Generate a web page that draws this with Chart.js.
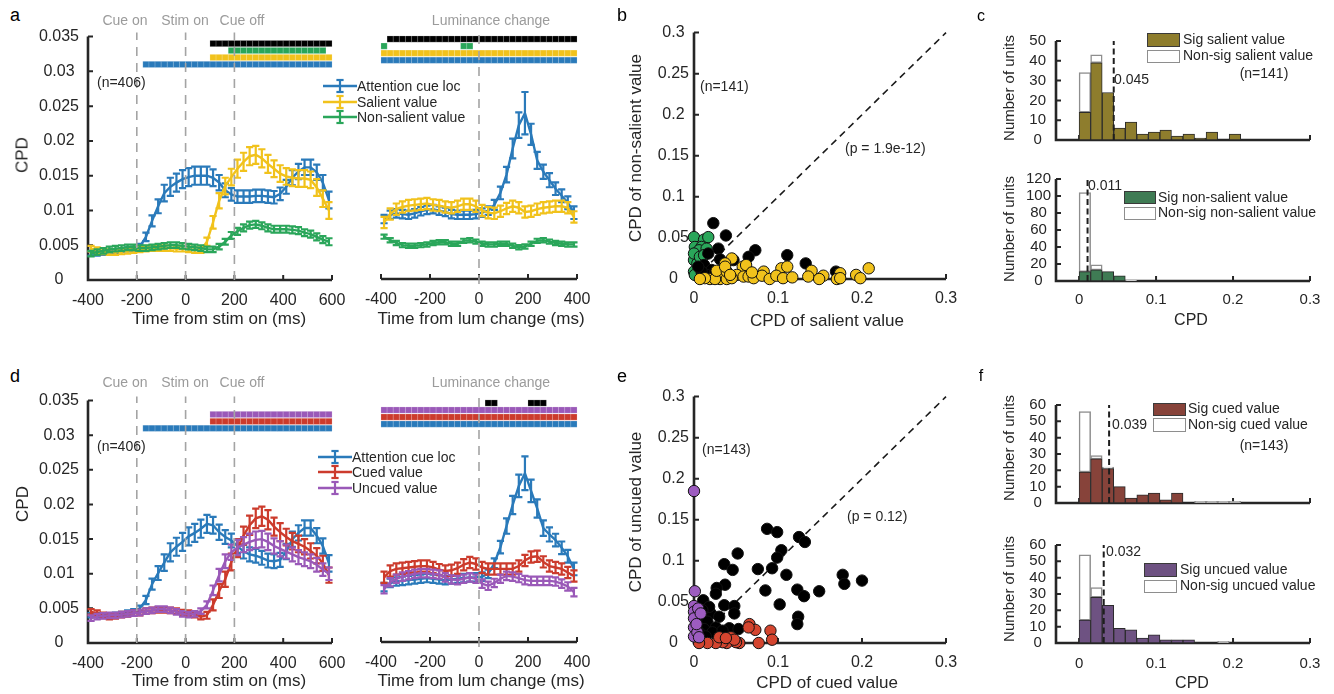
<!DOCTYPE html>
<html>
<head>
<meta charset="utf-8">
<script src="https://cdn.jsdelivr.net/npm/chart.js@4.4.1/dist/chart.umd.min.js"></script>
<style>
html, body { margin: 0; padding: 0; background: #fff; }
#fig { position: relative; width: 1334px; height: 694px; overflow: hidden;
       font-family: "Liberation Sans", Arial, Helvetica, sans-serif; color: #262626; }
#fig canvas { position: absolute; }
.t { position: absolute; white-space: nowrap; line-height: 1; }
.box { position: absolute; box-sizing: border-box; }
</style>
</head>
<body>
<div id="fig"></div>
<script>
// ---------- data ----------
const timeStim = [-387.5,-362.5,-337.5,-312.5,-287.5,-262.5,-237.5,-212.5,-187.5,-162.5,-137.5,-112.5,-87.5,-62.5,-37.5,-12.5,12.5,37.5,62.5,87.5,112.5,137.5,162.5,187.5,212.5,237.5,262.5,287.5,312.5,337.5,362.5,387.5,412.5,437.5,462.5,487.5,512.5,537.5,562.5,587.5];
const timeLum = [-387.5,-362.5,-337.5,-312.5,-287.5,-262.5,-237.5,-212.5,-187.5,-162.5,-137.5,-112.5,-87.5,-62.5,-37.5,-12.5,12.5,37.5,62.5,87.5,112.5,137.5,162.5,187.5,212.5,237.5,262.5,287.5,312.5,337.5,362.5,387.5];

const stimTicks = [-400, -200, 0, 200, 400, 600];
const lumTicks = [-400, -200, 0, 200, 400];
const cpdTicks = [0, 0.005, 0.01, 0.015, 0.02, 0.025, 0.03, 0.035];
const scatterYTicks = [0, 0.05, 0.1, 0.15, 0.2, 0.25, 0.3];
const scatterXTicks = [0, 0.1, 0.2, 0.3];
const histXTicks = [0, 0.1, 0.2, 0.3];
const cTopYTicks = [0, 10, 20, 30, 40, 50];
const cBotYTicks = [0, 20, 40, 60, 80, 100, 120];
const fYTicks = [0, 10, 20, 30, 40, 50, 60];

// panel a, aligned to stim on
const aStimCue = [0.0038,0.0038,0.0039,0.0040,0.0041,0.0043,0.0044,0.0045,0.0048,0.0062,0.0085,0.0106,0.0125,0.0134,0.0140,0.0145,0.0148,0.0150,0.0150,0.0150,0.0147,0.0140,0.0129,0.0123,0.0120,0.0120,0.0120,0.0121,0.0121,0.0120,0.0119,0.0124,0.0134,0.0147,0.0156,0.0162,0.0162,0.0155,0.0140,0.0115];
const aStimCueErr = [0.0003,0.0003,0.0003,0.0003,0.0003,0.0003,0.0003,0.0003,0.0004,0.0006,0.0008,0.0010,0.0012,0.0013,0.0013,0.0013,0.0013,0.0013,0.0013,0.0013,0.0012,0.0011,0.0010,0.0009,0.0009,0.0009,0.0009,0.0009,0.0009,0.0009,0.0009,0.0009,0.0010,0.0011,0.0011,0.0011,0.0011,0.0011,0.0011,0.0012];
const aStimSal = [0.0045,0.0043,0.0041,0.0040,0.0040,0.0041,0.0042,0.0043,0.0044,0.0045,0.0046,0.0046,0.0046,0.0046,0.0045,0.0045,0.0044,0.0043,0.0043,0.0055,0.0083,0.0114,0.0135,0.0148,0.0160,0.0170,0.0178,0.0180,0.0175,0.0167,0.0160,0.0153,0.0149,0.0147,0.0146,0.0146,0.0144,0.0133,0.0117,0.0100];
const aStimSalErr = [0.0004,0.0004,0.0004,0.0004,0.0004,0.0004,0.0004,0.0004,0.0004,0.0004,0.0004,0.0004,0.0004,0.0004,0.0004,0.0004,0.0004,0.0004,0.0004,0.0006,0.0009,0.0011,0.0012,0.0012,0.0013,0.0013,0.0013,0.0013,0.0013,0.0013,0.0012,0.0012,0.0012,0.0012,0.0012,0.0012,0.0012,0.0012,0.0012,0.0012];
const aStimNonSal = [0.0038,0.0040,0.0042,0.0044,0.0045,0.0046,0.0047,0.0047,0.0046,0.0046,0.0047,0.0048,0.0049,0.0050,0.0050,0.0049,0.0048,0.0047,0.0046,0.0044,0.0044,0.0048,0.0055,0.0064,0.0070,0.0075,0.0079,0.0080,0.0078,0.0075,0.0073,0.0073,0.0073,0.0072,0.0071,0.0068,0.0066,0.0062,0.0058,0.0055];
const aStimNonSalErr = [0.0004,0.0004,0.0004,0.0004,0.0004,0.0004,0.0004,0.0004,0.0004,0.0004,0.0004,0.0004,0.0004,0.0004,0.0004,0.0004,0.0004,0.0004,0.0004,0.0004,0.0004,0.0004,0.0004,0.0005,0.0005,0.0005,0.0005,0.0005,0.0005,0.0005,0.0005,0.0005,0.0005,0.0005,0.0005,0.0005,0.0005,0.0005,0.0005,0.0005];

// panel a, aligned to luminance change
const aLumCue = [0.0085,0.0091,0.0093,0.0092,0.0091,0.0093,0.0096,0.0098,0.0099,0.0097,0.0095,0.0092,0.0091,0.0091,0.0091,0.0092,0.0094,0.0097,0.0105,0.0122,0.0148,0.0185,0.0218,0.0235,0.0205,0.0168,0.0152,0.0140,0.0128,0.0118,0.0108,0.0094];
const aLumCueErr = [0.0006,0.0006,0.0006,0.0006,0.0006,0.0006,0.0006,0.0006,0.0006,0.0006,0.0006,0.0006,0.0006,0.0006,0.0006,0.0006,0.0006,0.0006,0.0007,0.0009,0.0011,0.0014,0.0018,0.0030,0.0015,0.0012,0.0010,0.0010,0.0009,0.0009,0.0009,0.0009];
const aLumSal = [0.0080,0.0092,0.0099,0.0102,0.0104,0.0105,0.0106,0.0107,0.0105,0.0104,0.0102,0.0101,0.0103,0.0106,0.0106,0.0103,0.0097,0.0094,0.0093,0.0096,0.0100,0.0103,0.0101,0.0095,0.0096,0.0099,0.0101,0.0102,0.0103,0.0103,0.0101,0.0088];
const aLumSalErr = [0.0008,0.0008,0.0008,0.0008,0.0008,0.0008,0.0008,0.0008,0.0008,0.0008,0.0008,0.0008,0.0008,0.0008,0.0008,0.0008,0.0008,0.0008,0.0008,0.0008,0.0008,0.0008,0.0008,0.0008,0.0008,0.0008,0.0008,0.0008,0.0008,0.0008,0.0008,0.0008];
const aLumNonSal = [0.0060,0.0055,0.0051,0.0048,0.0047,0.0047,0.0048,0.0049,0.0051,0.0052,0.0052,0.0050,0.0050,0.0054,0.0055,0.0053,0.0050,0.0049,0.0049,0.0050,0.0050,0.0047,0.0045,0.0046,0.0050,0.0054,0.0055,0.0053,0.0051,0.0050,0.0049,0.0049];
const aLumNonSalErr = [0.0003,0.0003,0.0003,0.0003,0.0003,0.0003,0.0003,0.0003,0.0003,0.0003,0.0003,0.0003,0.0003,0.0003,0.0003,0.0003,0.0003,0.0003,0.0003,0.0003,0.0003,0.0003,0.0003,0.0003,0.0003,0.0003,0.0003,0.0003,0.0003,0.0003,0.0003,0.0003];

// panel d, aligned to stim on
const dStimCue = [0.0040,0.0040,0.0040,0.0040,0.0041,0.0042,0.0044,0.0046,0.0050,0.0062,0.0085,0.0101,0.0116,0.0131,0.0139,0.0146,0.0154,0.0159,0.0165,0.0172,0.0170,0.0160,0.0153,0.0148,0.0140,0.0132,0.0128,0.0126,0.0123,0.0119,0.0118,0.0120,0.0132,0.0150,0.0159,0.0166,0.0166,0.0155,0.0140,0.0115];
const dStimCueErr = [0.0003,0.0003,0.0003,0.0003,0.0003,0.0003,0.0003,0.0003,0.0004,0.0006,0.0008,0.0010,0.0012,0.0013,0.0013,0.0013,0.0013,0.0013,0.0013,0.0013,0.0012,0.0011,0.0010,0.0010,0.0010,0.0010,0.0010,0.0010,0.0010,0.0010,0.0010,0.0010,0.0011,0.0011,0.0011,0.0011,0.0011,0.0011,0.0011,0.0012];
const dStimCued = [0.0045,0.0043,0.0040,0.0038,0.0039,0.0041,0.0042,0.0043,0.0044,0.0046,0.0047,0.0048,0.0048,0.0047,0.0046,0.0044,0.0043,0.0041,0.0038,0.0040,0.0055,0.0075,0.0092,0.0117,0.0137,0.0155,0.0170,0.0180,0.0183,0.0178,0.0168,0.0160,0.0153,0.0147,0.0143,0.0139,0.0133,0.0126,0.0115,0.0098];
const dStimCuedErr = [0.0004,0.0004,0.0004,0.0004,0.0004,0.0004,0.0004,0.0004,0.0004,0.0004,0.0004,0.0004,0.0004,0.0004,0.0004,0.0004,0.0004,0.0004,0.0004,0.0005,0.0008,0.0010,0.0011,0.0012,0.0013,0.0013,0.0014,0.0014,0.0014,0.0014,0.0013,0.0013,0.0012,0.0012,0.0012,0.0011,0.0011,0.0011,0.0011,0.0011];
const dStimUncued = [0.0036,0.0038,0.0039,0.0040,0.0040,0.0041,0.0042,0.0043,0.0044,0.0046,0.0047,0.0049,0.0049,0.0047,0.0045,0.0042,0.0041,0.0042,0.0046,0.0055,0.0076,0.0098,0.0118,0.0131,0.0138,0.0142,0.0146,0.0149,0.0150,0.0146,0.0140,0.0136,0.0132,0.0128,0.0124,0.0121,0.0118,0.0113,0.0106,0.0100];
const dStimUncuedErr = [0.0004,0.0004,0.0004,0.0004,0.0004,0.0004,0.0004,0.0004,0.0004,0.0004,0.0004,0.0004,0.0004,0.0004,0.0004,0.0004,0.0004,0.0004,0.0004,0.0005,0.0007,0.0009,0.0010,0.0011,0.0011,0.0011,0.0012,0.0012,0.0012,0.0012,0.0011,0.0011,0.0010,0.0010,0.0010,0.0010,0.0010,0.0010,0.0009,0.0009];

// panel d, aligned to luminance change
const dLumCue = [0.0078,0.0084,0.0086,0.0087,0.0088,0.0089,0.0090,0.0091,0.0090,0.0089,0.0088,0.0089,0.0090,0.0091,0.0092,0.0092,0.0093,0.0097,0.0112,0.0135,0.0165,0.0195,0.0222,0.0240,0.0215,0.0190,0.0162,0.0153,0.0145,0.0134,0.0122,0.0104];
const dLumCueErr = [0.0006,0.0006,0.0006,0.0006,0.0006,0.0006,0.0006,0.0006,0.0006,0.0006,0.0006,0.0006,0.0006,0.0006,0.0006,0.0006,0.0006,0.0006,0.0007,0.0009,0.0011,0.0013,0.0016,0.0024,0.0016,0.0013,0.0011,0.0010,0.0009,0.0009,0.0009,0.0009];
const dLumCued = [0.0092,0.0101,0.0104,0.0105,0.0106,0.0107,0.0108,0.0108,0.0106,0.0103,0.0101,0.0102,0.0105,0.0110,0.0113,0.0111,0.0106,0.0104,0.0104,0.0104,0.0104,0.0104,0.0108,0.0116,0.0121,0.0122,0.0114,0.0108,0.0106,0.0104,0.0099,0.0094];
const dLumCuedErr = [0.0008,0.0008,0.0008,0.0008,0.0008,0.0008,0.0008,0.0008,0.0008,0.0008,0.0008,0.0008,0.0008,0.0008,0.0008,0.0008,0.0008,0.0008,0.0008,0.0008,0.0008,0.0008,0.0008,0.0008,0.0008,0.0008,0.0008,0.0008,0.0008,0.0008,0.0008,0.0008];
const dLumUncued = [0.0075,0.0085,0.0090,0.0093,0.0095,0.0097,0.0098,0.0098,0.0097,0.0096,0.0092,0.0089,0.0088,0.0090,0.0092,0.0090,0.0083,0.0080,0.0084,0.0090,0.0094,0.0093,0.0091,0.0088,0.0087,0.0087,0.0087,0.0087,0.0086,0.0083,0.0079,0.0071];
const dLumUncuedErr = [0.0006,0.0006,0.0006,0.0006,0.0006,0.0006,0.0006,0.0006,0.0006,0.0006,0.0006,0.0006,0.0006,0.0006,0.0006,0.0006,0.0006,0.0006,0.0006,0.0006,0.0006,0.0006,0.0006,0.0006,0.0006,0.0006,0.0006,0.0006,0.0006,0.0006,0.0006,0.0006];

// significant time windows (ms)
const aStimSigAll = [[100, 600]];
const aStimSigNonSal = [[175, 575]];
const aStimSigSal = [[100, 600]];
const aStimSigCue = [[-175, 600]];
const aLumSigAll = [[-375, 400]];
const aLumSigNonSal = [[-400, -375], [-75, -25]];
const aLumSigSal = [[-400, 400]];
const aLumSigCue = [[-400, 400]];
const dStimSigUncued = [[100, 600]];
const dStimSigCued = [[100, 600]];
const dStimSigCue = [[-175, 600]];
const dLumSigAll = [[25, 75], [200, 275]];
const dLumSigUncued = [[-400, 400]];
const dLumSigCued = [[-400, 400]];
const dLumSigCue = [[-400, 400]];

// panel b scatter: [salient, non-salient]
const bBoth = [[0.023,0.068],[0.038,0.053],[0.029,0.037],[0.017,0.031],[0.031,0.024],[0.047,0.023],[0.073,0.035],[0.065,0.027],[0.111,0.029],[0.133,0.019],[0.169,0.009],[0.012,0.017],[0.021,0.011],[0.015,0.005],[0.025,0.007],[0.009,0.009],[0.005,0.015]];
const bNonSal = [[0,0.051],[0.001,0.039],[0,0.023],[0,0.009],[0.012,0.048],[0.017,0.051],[0.009,0.039],[0.006,0.035],[0.015,0.037],[0.004,0.019],[0,0.031],[0.007,0.027],[0.001,0.005],[0.012,0.029]];
const bSal = [[0.045,0.025],[0.037,0.019],[0.058,0.015],[0.062,0.017],[0.083,0.009],[0.104,0.013],[0.111,0.015],[0.140,0.010],[0.136,0.003],[0.154,0.004],[0.149,0.0],[0.174,0.007],[0.170,0.0],[0.174,0.001],[0.193,0.005],[0.198,0.001],[0.208,0.013],[0.051,0.005],[0.059,0.003],[0.065,0.003],[0.071,0.001],[0.081,0.004],[0.090,0.0],[0.098,0.004],[0.106,0.001],[0.117,0.002],[0.031,0.0],[0.039,0.0],[0.045,0.001],[0.019,0.0],[0.025,0.0],[0.013,0.001],[0.027,0.010],[0.039,0.009],[0.037,0.015],[0.007,0.0],[0.043,0.005],[0.069,0.008]];

// panel e scatter: [cued, uncued]
const eBoth = [[0.087,0.139],[0.099,0.135],[0.125,0.129],[0.132,0.123],[0.052,0.109],[0.104,0.113],[0.099,0.104],[0.036,0.096],[0.046,0.089],[0.076,0.090],[0.093,0.091],[0.110,0.083],[0.177,0.083],[0.179,0.072],[0.200,0.076],[0.037,0.071],[0.027,0.067],[0.026,0.060],[0.085,0.064],[0.123,0.065],[0.149,0.063],[0.131,0.057],[0.011,0.052],[0.036,0.046],[0.048,0.045],[0.048,0.036],[0.102,0.047],[0.124,0.032],[0.123,0.023],[0.020,0.036],[0.008,0.032],[0.030,0.032],[0.016,0.026],[0.026,0.019],[0.042,0.018],[0.053,0.017],[0.004,0.042],[0.012,0.017],[0.006,0.013],[0.022,0.013],[0.034,0.015],[0.018,0.044],[0.010,0.040],[0.014,0.008]];
const eUncued = [[0,0.185],[0.001,0.063],[0,0.045],[0,0.038],[0,0.030],[0,0.019],[0,0.008],[0.005,0.042],[0.008,0.036],[0.004,0.013],[0.003,0.023],[0.006,0.007]];
const eCued = [[0.066,0.023],[0.073,0.016],[0.091,0.015],[0.093,0.004],[0.077,0.0],[0.054,0.0],[0.050,0.001],[0.039,0.0],[0.034,0.001],[0.026,0.0],[0.016,0.0],[0.006,0.0],[0.044,0.007],[0.048,0.004],[0.065,0.019],[0.030,0.007],[0.038,0.006]];
const diagLine = [[0, 0], [0.3, 0.3]];

// histograms (bin width 0.015)
const binCenters = [0.0075,0.0225,0.0375,0.0525,0.0675,0.0825,0.0975,0.1125,0.1275,0.1425,0.1575,0.1725,0.1875,0.2025,0.2175,0.2325,0.2475,0.2625,0.2775,0.2925];
const cTopSig = [14,39,24,6,9,3,4,5,2,3,1,4,0,3,0,0,0,0,0,0];
const cTopNonSig = [20,4,0,0,0,0,0,0,0,0,0,0,0,0,0,0,0,0,0,0];
const cBotSig = [11,13,11,6,0,0,0,0,0,0,0,0,0,0,0,0,0,0,0,0];
const cBotNonSig = [93,6,0,0,1,0,0,0,0,0,0,0,0,0,0,0,0,0,0,0];
const fTopSig = [19,27,21,10,3,5,6,2,6,0,0,0,0,0,0,0,0,0,0,0];
const fTopNonSig = [37,2,1,0,0,0,0,0,0,0,1,1,1,1,0,0,0,0,0,0];
const fBotSig = [14,28,23,9,8,3,5,2,2,2,0,0,0,0,0,0,0,0,0,0];
const fBotNonSig = [40,6,0,0,0,0,0,0,0,0,0,0,1,0,0,0,0,0,0,0];
const cTopMedian = 0.045, cBotMedian = 0.011, fTopMedian = 0.039, fBotMedian = 0.032;

// ---------- styles ----------
const BLUE = '#2a7aba', YELLOW = '#f1c21c', GREEN = '#2aa65a', RED = '#cc3b2c', PURPLE = '#9a59b8';
const INK = '#262626';
const M = { l: 64, r: 30, t: 14, b: 44 };

Chart.defaults.font.family = '"Liberation Sans", Arial, Helvetica, sans-serif';
Chart.defaults.color = INK;

const fig = document.getElementById('fig');

function addCanvas(area) {
    const c = document.createElement('canvas');
    const w = area.R - area.L + M.l + M.r;
    const h = area.B - area.T + M.t + M.b;
    c.width = w; c.height = h;
    c.style.width = w + 'px'; c.style.height = h + 'px';
    c.style.left = (area.L - M.l) + 'px';
    c.style.top = (area.T - M.t) + 'px';
    fig.appendChild(c);
    return c;
}

function axisOpts(min, max, vals, o) {
    return {
        type: 'linear', min: min, max: max, display: o.display !== false, offset: false,
        stacked: !!o.stacked,
        grid: { display: false, drawTicks: false, offset: false },
        border: { display: false },
        ticks: {
            display: o.labels !== false, font: { size: o.size }, color: INK, padding: o.pad,
            autoSkip: false, maxRotation: 0, crossAlign: o.cross || 'near',
            callback: v => String(v)
        },
        afterBuildTicks: s => { s.ticks = vals.map(v => ({ value: v })); },
        afterFit: s => { if (o.w) s.width = o.w; if (o.h) s.height = o.h; }
    };
}

// axes with inward ticks, error bars, dashed reference lines
function decor(cfg) {
    return {
        id: 'decor',
        beforeDatasetsDraw(chart) {
            const { ctx, chartArea: ca, scales } = chart;
            const x = scales.x, y = scales.y;
            ctx.save();
            ctx.strokeStyle = INK;
            ctx.lineWidth = 2.6;
            ctx.beginPath();
            ctx.moveTo(ca.left - (cfg.yAxis ? 1.3 : 0), ca.bottom);
            ctx.lineTo(ca.right, ca.bottom);
            if (cfg.yAxis) {
                ctx.moveTo(ca.left, ca.bottom);
                ctx.lineTo(ca.left, ca.top);
            }
            ctx.stroke();
            ctx.lineWidth = 2;
            ctx.beginPath();
            x.ticks.forEach(t => {
                const p = x.getPixelForValue(t.value);
                ctx.moveTo(p, ca.bottom); ctx.lineTo(p, ca.bottom - 5);
            });
            if (cfg.yAxis) {
                y.ticks.forEach(t => {
                    const p = y.getPixelForValue(t.value);
                    ctx.moveTo(ca.left, p); ctx.lineTo(ca.left + 5, p);
                });
            }
            ctx.stroke();
            ctx.restore();
        },
        afterDatasetDraw(chart, args) {
            const ds = chart.data.datasets[args.index];
            if (!ds.errors) return;
            const ctx = chart.ctx, y = chart.scales.y;
            ctx.save();
            ctx.strokeStyle = ds.borderColor;
            ctx.lineWidth = 2.2;
            ctx.beginPath();
            args.meta.data.forEach((pt, i) => {
                const v = ds.data[i].y, e = ds.errors[i];
                const y1 = y.getPixelForValue(v - e), y2 = y.getPixelForValue(v + e);
                ctx.moveTo(pt.x, y1); ctx.lineTo(pt.x, y2);
                ctx.moveTo(pt.x - 3.6, y1); ctx.lineTo(pt.x + 3.6, y1);
                ctx.moveTo(pt.x - 3.6, y2); ctx.lineTo(pt.x + 3.6, y2);
            });
            ctx.stroke();
            ctx.restore();
        },
        afterDatasetsDraw(chart) {
            const { ctx, chartArea: ca, scales } = chart;
            const x = scales.x, y = scales.y;
            ctx.save();
            if (cfg.vlines) {
                ctx.strokeStyle = '#a4a4a4';
                ctx.lineWidth = 1.6;
                ctx.setLineDash([9, 7]);
                ctx.beginPath();
                cfg.vlines.forEach(v => {
                    const p = x.getPixelForValue(v);
                    ctx.moveTo(p, ca.bottom + (cfg.extB || 0));
                    ctx.lineTo(p, ca.top - 4);
                });
                ctx.stroke();
            }
            if (cfg.median !== undefined) {
                ctx.strokeStyle = '#1e1e1e';
                ctx.lineWidth = 2;
                ctx.setLineDash([6, 3.5]);
                ctx.beginPath();
                const p = x.getPixelForValue(cfg.median);
                ctx.moveTo(p, y.getPixelForValue(0));
                ctx.lineTo(p, y.getPixelForValue(y.max));
                ctx.stroke();
            }
            ctx.restore();
        }
    };
}

function seriesDs(times, vals, errs, color, order) {
    return {
        data: times.map((t, i) => ({ x: t, y: vals[i] })),
        errors: errs, borderColor: color, backgroundColor: color,
        borderWidth: 2.4, pointRadius: 0, tension: 0, order: order, clip: false
    };
}

function sigDs(times, windows, level, color) {
    const pts = times.filter(t => windows.some(w => t > w[0] && t < w[1])).map(t => ({ x: t, y: level }));
    return {
        data: pts, showLine: false, pointStyle: 'rect', pointRadius: 4.4,
        pointBackgroundColor: color, pointBorderColor: 'rgba(255,255,255,0.35)',
        pointBorderWidth: 0.5, order: 20, clip: false
    };
}

function timePanel(area, hasY, xmax, xTicks, datasets, vlines, extB) {
    new Chart(addCanvas(area), {
        type: 'line',
        data: { datasets: datasets },
        options: {
            responsive: false, animation: false, events: [], devicePixelRatio: 1,
            layout: { padding: { left: 0, right: M.r, top: M.t, bottom: 0 } },
            plugins: { legend: { display: false }, tooltip: { enabled: false } },
            scales: {
                x: axisOpts(-400, xmax, xTicks, { size: 16, pad: 11, h: M.b }),
                y: axisOpts(0, 0.035, cpdTicks, { labels: hasY, size: 16, pad: 9, cross: 'center', w: M.l })
            }
        },
        plugins: [decor({ yAxis: hasY, vlines: vlines, extB: extB })]
    });
}

function dotDs(pts, color, order) {
    return {
        data: pts.map(p => ({ x: p[0], y: p[1] })),
        pointRadius: 5.7, pointBackgroundColor: color, pointBorderColor: '#111',
        pointBorderWidth: 1, showLine: false, order: order, clip: false
    };
}

function scatterPanel(area, datasets) {
    datasets.push({
        type: 'line', data: diagLine.map(p => ({ x: p[0], y: p[1] })),
        borderColor: '#1a1a1a', borderWidth: 1.6, borderDash: [7, 5],
        pointRadius: 0, showLine: true, order: 50, clip: false
    });
    new Chart(addCanvas(area), {
        type: 'scatter',
        data: { datasets: datasets },
        options: {
            responsive: false, animation: false, events: [], devicePixelRatio: 1,
            layout: { padding: { left: 0, right: M.r, top: M.t, bottom: 0 } },
            plugins: { legend: { display: false }, tooltip: { enabled: false } },
            scales: {
                x: axisOpts(0, 0.3, scatterXTicks, { size: 16, pad: 10, h: M.b }),
                y: axisOpts(0, 0.3, scatterYTicks, { size: 16, pad: 5, cross: 'center', w: M.l })
            }
        },
        plugins: [decor({ yAxis: true })]
    });
}

function histPanel(area, ymax, yTicks, showX, sig, nonsig, color, median, yPad, xPad) {
    const bar = { barPercentage: 1, categoryPercentage: 1, borderSkipped: false };
    new Chart(addCanvas(area), {
        type: 'bar',
        data: {
            datasets: [
                Object.assign({ data: binCenters.map((c, i) => ({ x: c, y: sig[i] })),
                    backgroundColor: color, borderColor: '#2b2b2b', borderWidth: 1 }, bar),
                Object.assign({ data: binCenters.map((c, i) => ({ x: c, y: nonsig[i] })),
                    backgroundColor: '#ffffff', borderColor: '#8e8e8e', borderWidth: 1.5 }, bar)
            ]
        },
        options: {
            responsive: false, animation: false, events: [], devicePixelRatio: 1,
            layout: { padding: { left: 0, right: M.r, top: M.t, bottom: 0 } },
            plugins: { legend: { display: false }, tooltip: { enabled: false } },
            scales: {
                x: axisOpts(-0.03, 0.3, histXTicks, { size: 15, pad: xPad, h: M.b, labels: showX, stacked: true }),
                y: axisOpts(0, ymax, yTicks, { size: 15, pad: yPad, cross: 'center', w: M.l, stacked: true })
            }
        },
        plugins: [decor({ yAxis: true, median: median })]
    });
}

// ---------- charts ----------
timePanel({ L: 88, R: 332, T: 32, B: 280 }, true, 600, stimTicks, [
    seriesDs(timeStim, aStimCue, aStimCueErr, BLUE, 3),
    seriesDs(timeStim, aStimSal, aStimSalErr, YELLOW, 2),
    seriesDs(timeStim, aStimNonSal, aStimNonSalErr, GREEN, 1),
    sigDs(timeStim, aStimSigAll, 0.034, '#000000'),
    sigDs(timeStim, aStimSigNonSal, 0.033, GREEN),
    sigDs(timeStim, aStimSigSal, 0.032, YELLOW),
    sigDs(timeStim, aStimSigCue, 0.031, BLUE)
], [-200, 0, 200], 0);

timePanel({ L: 381, R: 577, T: 32, B: 279 }, false, 400, lumTicks, [
    seriesDs(timeLum, aLumCue, aLumCueErr, BLUE, 3),
    seriesDs(timeLum, aLumSal, aLumSalErr, YELLOW, 2),
    seriesDs(timeLum, aLumNonSal, aLumNonSalErr, GREEN, 1),
    sigDs(timeLum, aLumSigAll, 0.034, '#000000'),
    sigDs(timeLum, aLumSigNonSal, 0.033, GREEN),
    sigDs(timeLum, aLumSigSal, 0.032, YELLOW),
    sigDs(timeLum, aLumSigCue, 0.031, BLUE)
], [0], 5);

timePanel({ L: 88, R: 332, T: 396, B: 643 }, true, 600, stimTicks, [
    seriesDs(timeStim, dStimCue, dStimCueErr, BLUE, 3),
    seriesDs(timeStim, dStimCued, dStimCuedErr, RED, 2),
    seriesDs(timeStim, dStimUncued, dStimUncuedErr, PURPLE, 1),
    sigDs(timeStim, dStimSigUncued, 0.033, PURPLE),
    sigDs(timeStim, dStimSigCued, 0.032, RED),
    sigDs(timeStim, dStimSigCue, 0.031, BLUE)
], [-200, 0, 200], 0);

timePanel({ L: 381, R: 577, T: 396, B: 642 }, false, 400, lumTicks, [
    seriesDs(timeLum, dLumCue, dLumCueErr, BLUE, 3),
    seriesDs(timeLum, dLumCued, dLumCuedErr, RED, 2),
    seriesDs(timeLum, dLumUncued, dLumUncuedErr, PURPLE, 1),
    sigDs(timeLum, dLumSigAll, 0.034, '#000000'),
    sigDs(timeLum, dLumSigUncued, 0.033, PURPLE),
    sigDs(timeLum, dLumSigCued, 0.032, RED),
    sigDs(timeLum, dLumSigCue, 0.031, BLUE)
], [0], 5);

scatterPanel({ L: 694, R: 946, T: 32, B: 279 }, [
    dotDs(bSal, YELLOW, 1),
    dotDs(bBoth, '#000000', 2),
    dotDs(bNonSal, GREEN, 3)
]);

scatterPanel({ L: 694, R: 946, T: 396, B: 643 }, [
    dotDs(eUncued, '#9d5cc0', 1),
    dotDs(eCued, '#d4452f', 2),
    dotDs(eBoth, '#000000', 3)
]);

histPanel({ L: 1056, R: 1310, T: 36, B: 140 }, 50, cTopYTicks, false, cTopSig, cTopNonSig, '#8e7d2d', cTopMedian, 10, 10);
histPanel({ L: 1056, R: 1310, T: 179, B: 281 }, 120, cBotYTicks, true, cBotSig, cBotNonSig, '#3f7b54', cBotMedian, 5, 10);
histPanel({ L: 1056, R: 1310, T: 400, B: 503 }, 60, fYTicks, false, fTopSig, fTopNonSig, '#87433a', fTopMedian, 10, 12);
histPanel({ L: 1056, R: 1310, T: 540, B: 643 }, 60, fYTicks, true, fBotSig, fBotNonSig, '#6e5282', fBotMedian, 10, 12);

// ---------- text ----------
function label(text, x, y, o) {
    o = o || {};
    const d = document.createElement('div');
    d.className = 't';
    d.textContent = text;
    d.style.left = x + 'px';
    d.style.top = y + 'px';
    d.style.fontSize = (o.size || 14) + 'px';
    if (o.color) d.style.color = o.color;
    const tx = o.left ? '0' : '-50%';
    d.style.transform = 'translate(' + tx + ', -50%)' + (o.rot ? ' rotate(-90deg)' : '');
    fig.appendChild(d);
}

function errIcon(x, yc, color) {
    const d = document.createElement('div');
    d.style.position = 'absolute';
    d.style.left = x + 'px';
    d.style.top = (yc - 8) + 'px';
    d.innerHTML = '<svg width="34" height="16" viewBox="0 0 34 16">' +
        '<line x1="0" y1="8" x2="34" y2="8" stroke="' + color + '" stroke-width="2.6"/>' +
        '<line x1="17" y1="2" x2="17" y2="14" stroke="' + color + '" stroke-width="2.2"/>' +
        '<line x1="13.4" y1="2" x2="20.6" y2="2" stroke="' + color + '" stroke-width="2.2"/>' +
        '<line x1="13.4" y1="14" x2="20.6" y2="14" stroke="' + color + '" stroke-width="2.2"/></svg>';
    fig.appendChild(d);
}

function swatch(x, y, w, h, fill, border) {
    const d = document.createElement('div');
    d.className = 'box';
    d.style.left = x + 'px'; d.style.top = y + 'px';
    d.style.width = w + 'px'; d.style.height = h + 'px';
    d.style.background = fill;
    d.style.border = '1.5px solid ' + border;
    fig.appendChild(d);
}

// panel letters
label('a', 15, 15, { size: 18, color: '#000' });
label('b', 622, 15, { size: 18, color: '#000' });
label('c', 981, 16, { size: 16, color: '#000' });
label('d', 15, 376, { size: 18, color: '#000' });
label('e', 622, 376, { size: 18, color: '#000' });
label('f', 981, 376, { size: 16, color: '#000' });

// panel a
const GRAY = '#9b9b9b';
label('Cue on', 125, 20, { color: GRAY });
label('Stim on', 185, 20, { color: GRAY });
label('Cue off', 242, 20, { color: GRAY });
label('Luminance change', 491, 20, { color: GRAY });
label('(n=406)', 97, 82, { left: true });
label('CPD', 22, 155, { size: 17, rot: true });
label('Time from stim on (ms)', 219, 318, { size: 17 });
label('Time from lum change (ms)', 481, 318, { size: 17 });
errIcon(323, 86, BLUE); label('Attention cue loc', 357, 86, { left: true });
errIcon(323, 102, YELLOW); label('Salient value', 357, 102, { left: true });
errIcon(323, 117, GREEN); label('Non-salient value', 357, 117, { left: true });

// panel d
label('Cue on', 125, 382, { color: GRAY });
label('Stim on', 185, 382, { color: GRAY });
label('Cue off', 242, 382, { color: GRAY });
label('Luminance change', 491, 382, { color: GRAY });
label('(n=406)', 97, 446, { left: true });
label('CPD', 22, 504, { size: 17, rot: true });
label('Time from stim on (ms)', 219, 680, { size: 17 });
label('Time from lum change (ms)', 481, 680, { size: 17 });
errIcon(318, 457, BLUE); label('Attention cue loc', 352, 457, { left: true });
errIcon(318, 472, RED); label('Cued value', 352, 472, { left: true });
errIcon(318, 488, PURPLE); label('Uncued value', 352, 488, { left: true });

// panel b
label('(n=141)', 700, 86, { left: true });
label('(p = 1.9e-12)', 845, 148, { left: true });
label('CPD of non-salient value', 635, 148, { size: 17, rot: true });
label('CPD of salient value', 827, 320, { size: 17 });

// panel e
label('(n=143)', 702, 449, { left: true });
label('(p = 0.12)', 847, 516, { left: true });
label('CPD of uncued value', 635, 512, { size: 17, rot: true });
label('CPD of cued value', 827, 682, { size: 17 });

// panel c
label('Number of units', 1008, 88, { size: 15, rot: true });
label('Number of units', 1008, 229, { size: 15, rot: true });
label('CPD', 1191, 320, { size: 16 });
label('0.045', 1114, 79, { left: true });
label('0.011', 1088, 185, { left: true });
label('(n=141)', 1264, 73);
swatch(1147, 33, 33, 14, '#8e7d2d', '#3a3a3a'); label('Sig salient value', 1183, 39, { left: true });
swatch(1147, 50, 33, 13, '#ffffff', '#8e8e8e'); label('Non-sig salient value', 1183, 55, { left: true });
swatch(1124, 191, 32, 13, '#3f7b54', '#3a3a3a'); label('Sig non-salient value', 1158, 197, { left: true });
swatch(1124, 207, 32, 13, '#ffffff', '#8e8e8e'); label('Non-sig non-salient value', 1158, 212, { left: true });

// panel f
label('Number of units', 1008, 448, { size: 15, rot: true });
label('Number of units', 1008, 589, { size: 15, rot: true });
label('CPD', 1192, 683, { size: 16 });
label('0.039', 1112, 424, { left: true });
label('0.032', 1106, 551, { left: true });
label('(n=143)', 1264, 445);
swatch(1153, 403, 33, 13, '#87433a', '#3a3a3a'); label('Sig cued value', 1188, 408, { left: true });
swatch(1153, 418, 33, 14, '#ffffff', '#8e8e8e'); label('Non-sig cued value', 1188, 424, { left: true });
swatch(1144, 563, 33, 14, '#6e5282', '#3a3a3a'); label('Sig uncued value', 1180, 569, { left: true });
swatch(1144, 580, 33, 13, '#ffffff', '#8e8e8e'); label('Non-sig uncued value', 1180, 585, { left: true });
</script>
</body>
</html>
